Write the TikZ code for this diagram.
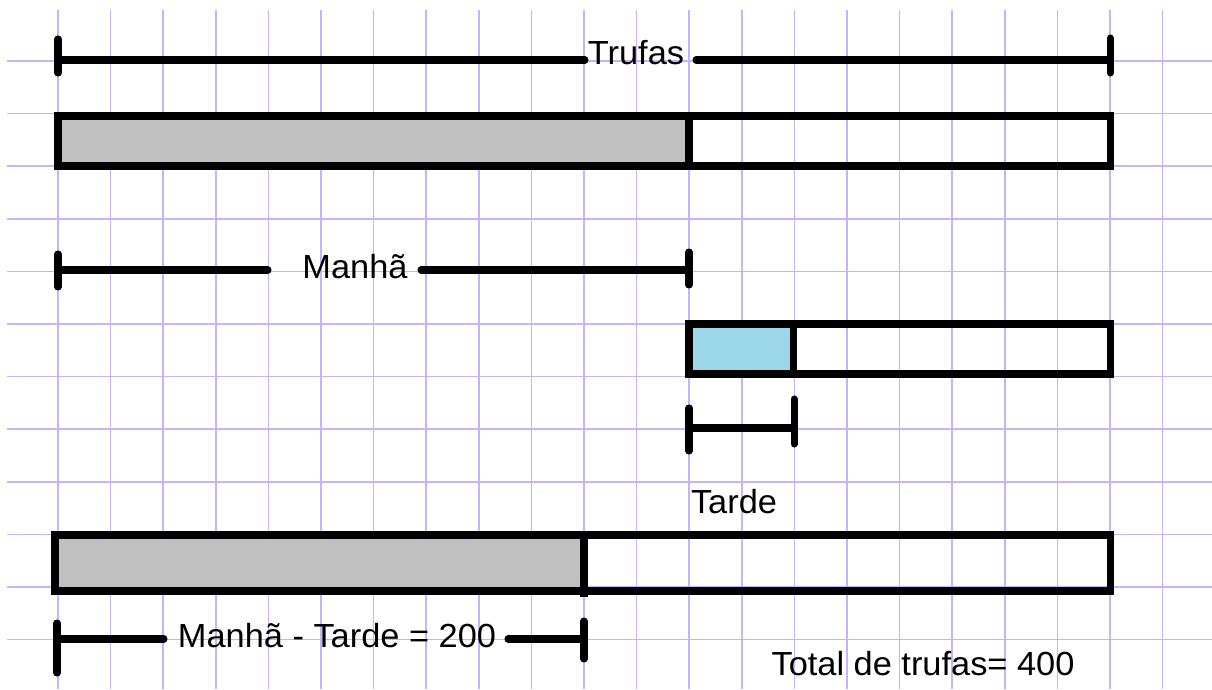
\documentclass[tikz,border=0pt]{standalone}
\usepackage{fontspec}
\setmainfont{Liberation Sans}[FakeStretch=1.03]
\definecolor{gridc}{RGB}{198,178,255}
\definecolor{grayfill}{RGB}{192,192,192}
\definecolor{bluefill}{RGB}{155,215,232}
\tikzset{
  gridline/.style={draw=gridc, line width=0.9pt},
  bar/.style={draw=black, line width=4pt, line join=miter},
  seg/.style={draw=black, line width=4pt, line cap=round},
  lbl/.style={inner sep=0pt, anchor=base, font=\fontsize{19}{21}\selectfont},
}
\begin{document}
\begin{tikzpicture}[x=0.02cm, y=-0.02cm]
\useasboundingbox (0,0) rectangle (1212,689);
\fill[white] (0,0) rectangle (1212,689);
% grid
\foreach \k in {0,...,11} {\draw[gridline] (7,{61+52.6*\k}) -- (1212,{61+52.6*\k});}
\foreach \k in {0,...,21} {\draw[gridline] ({58+52.6*\k},10) -- ({58+52.6*\k},689);}

% top bar
\fill[grayfill] (58,116) rectangle (689,166);
\draw[bar] (58,116) rectangle (1110,166);
\draw[bar] (689,116) -- (689,166);

% Trufas bracket
\node[lbl] (trufas) at (636,65) {Trufas};
\coordinate (t1) at (58,60);
\coordinate (t2) at (1110,60);
\coordinate (t1a) at (58,39); \coordinate (t1b) at (58,73);
\coordinate (t2a) at (1110,38); \coordinate (t2b) at (1110,73);
\coordinate (tl) at (585,60); \coordinate (tr) at (696,60);
\draw[seg] (t1a) -- (t1b);
\draw[seg] (t2a) -- (t2b);
\draw[seg] (t1) -- (tl);
\draw[seg] (tr) -- (t2);

% Manha bracket
\node[lbl] (manha) at (355,278) {Manhã};
\coordinate (m1) at (58,270); \coordinate (m2) at (689,270);
\coordinate (m1a) at (58,254); \coordinate (m1b) at (58,287);
\coordinate (m2a) at (689,252); \coordinate (m2b) at (689,285);
\coordinate (ml) at (268,270); \coordinate (mr) at (421,270);
\draw[seg] (m1a) -- (m1b);
\draw[seg] (m2a) -- (m2b);
\draw[seg] (m1) -- (ml);
\draw[seg] (mr) -- (m2);

% Tarde bar
\fill[bluefill] (689,324) rectangle (793,374);
\draw[bar] (689,324) rectangle (1110,374);
\draw[bar] (793,324) -- (793,374);

% Tarde bracket
\coordinate (d1) at (689,428); \coordinate (d2) at (794,428);
\coordinate (d1a) at (689,408); \coordinate (d1b) at (689,451);
\coordinate (d2a) at (794,399); \coordinate (d2b) at (794,444);
\draw[seg] (d1a) -- (d1b);
\draw[seg] (d2a) -- (d2b);
\draw[seg] (d1) -- (d2);
\node[lbl] (tarde) at (734,513) {Tarde};

% bottom bar
\fill[grayfill] (55,535) rectangle (584,591);
\draw[bar] (55,535) rectangle (1110,591);
\draw[bar] (584,535) -- (584,597);

% bottom bracket
\node[lbl] (diff) at (337,647) {Manhã - Tarde = 200};
\coordinate (b1) at (57,639); \coordinate (b2) at (584,639);
\coordinate (b1a) at (57,623); \coordinate (b1b) at (57,673);
\coordinate (b2a) at (584,621); \coordinate (b2b) at (584,659);
\coordinate (bl) at (164,639); \coordinate (br) at (508,639);
\draw[seg] (b1a) -- (b1b);
\draw[seg] (b2a) -- (b2b);
\draw[seg] (b1) -- (bl);
\draw[seg] (br) -- (b2);

% total
\node[lbl] (total) at (923,675) {Total de trufas= 400};
\end{tikzpicture}
\end{document}
